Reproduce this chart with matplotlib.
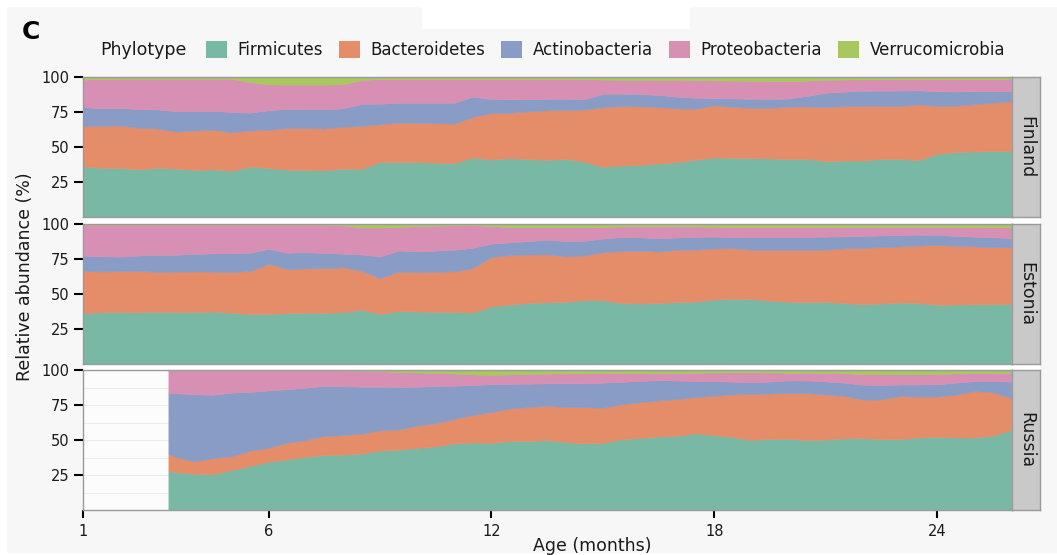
import numpy as np
import matplotlib
matplotlib.use("Agg")
import matplotlib.pyplot as plt
from matplotlib.patches import Patch, Rectangle

plt.rcParams['font.family'] = ['DejaVu Sans']

# Phylotypes, stacked bottom to top
phylotypes = ['Firmicutes', 'Bacteroidetes', 'Actinobacteria', 'Proteobacteria', 'Verrucomicrobia']
colors = ['#79b8a4', '#e58c68', '#889cc6', '#d78fb3', '#a8c75e']

# sampling ages (months)
months = np.arange(1.0, 26.5, 0.5)
months_russia = np.concatenate([[3.3], np.arange(3.5, 26.5, 0.5)])

# Finland, relative abundance (%)
fin_firmicutes = [36.3, 35.1, 35.0, 34.0, 35.1, 34.6, 33.6, 34.0, 32.9,
                  36.0, 35.0, 33.8, 33.5, 33.3, 34.5, 34.4, 39.2, 39.2,
                  39.2, 38.8, 38.4, 42.5, 41.0, 42.0, 41.3, 40.8, 41.5,
                  39.5, 35.8, 36.8, 37.2, 38.2, 39.2, 41.0, 42.5, 42.2,
                  42.0, 41.8, 41.3, 41.5, 39.9, 40.3, 40.3, 41.5, 41.5,
                  40.6, 45.0, 46.4, 46.8, 47.1, 47.4]
fin_bacteroidetes = [28.8, 30.0, 30.4, 29.7, 28.1, 26.4, 28.2, 28.3, 27.6,
                     25.8, 27.3, 29.8, 30.0, 29.9, 30.0, 30.6, 27.1, 28.2,
                     28.2, 28.2, 28.3, 29.0, 33.2, 32.5, 34.1, 35.4, 34.9,
                     37.3, 42.6, 42.4, 41.8, 40.4, 38.4, 36.4, 37.3, 36.4,
                     36.0, 36.2, 37.5, 37.5, 38.6, 38.9, 39.2, 37.9, 37.8,
                     39.9, 34.2, 33.1, 33.7, 34.5, 35.4]
fin_actinobacteria = [13.4, 12.6, 12.5, 13.3, 13.6, 14.6, 13.8, 13.5, 14.5,
                      12.7, 14.0, 13.6, 13.5, 13.8, 13.1, 15.8, 14.6, 14.2,
                      14.2, 14.6, 14.9, 14.5, 10.0, 9.5, 8.8, 8.1, 8.0,
                      7.3, 9.6, 8.8, 8.8, 8.6, 8.3, 7.8, 5.0, 6.1,
                      6.5, 6.4, 5.8, 7.5, 10.2, 10.3, 10.7, 10.9, 11.0,
                      10.0, 10.6, 10.2, 9.3, 8.3, 7.1]
fin_proteobacteria = [19.6, 20.8, 20.9, 21.8, 22.0, 23.2, 23.2, 23.0, 23.8,
                      21.8, 18.5, 17.4, 17.6, 17.6, 17.2, 17.0, 17.7, 17.0,
                      17.0, 17.0, 17.0, 12.6, 14.4, 14.6, 14.4, 14.3, 14.2,
                      14.4, 10.2, 10.0, 10.2, 10.8, 12.1, 12.6, 12.8, 12.7,
                      12.8, 12.8, 12.4, 10.9, 9.3, 8.7, 8.1, 8.1, 8.2,
                      8.1, 8.8, 8.9, 8.8, 8.7, 8.7]
fin_verrucomicrobia = [1.9, 1.5, 1.2, 1.2, 1.2, 1.2, 1.2, 1.2, 1.2,
                       3.7, 5.2, 5.4, 5.4, 5.4, 5.2, 2.2, 1.4, 1.4,
                       1.4, 1.4, 1.4, 1.4, 1.4, 1.4, 1.4, 1.4, 1.4,
                       1.5, 1.8, 2.0, 2.0, 2.0, 2.0, 2.2, 2.4, 2.6,
                       2.7, 2.8, 3.0, 2.6, 2.0, 1.8, 1.7, 1.6, 1.5,
                       1.4, 1.4, 1.4, 1.4, 1.4, 1.4]

# Estonia
est_firmicutes = [36.3, 37.0, 37.0, 36.9, 37.3, 37.0, 37.0, 37.5, 36.6,
                  35.7, 35.7, 36.3, 36.6, 36.5, 37.0, 38.8, 35.8, 37.8,
                  37.5, 37.3, 37.0, 36.8, 41.0, 42.5, 43.6, 44.0, 44.4,
                  45.6, 45.5, 43.5, 43.2, 43.5, 44.2, 44.6, 46.0, 46.6,
                  46.4, 45.3, 44.5, 44.2, 44.2, 43.5, 42.8, 43.2, 43.9,
                  43.6, 42.3, 42.5, 42.6, 42.7, 42.7]
est_bacteroidetes = [30.3, 29.1, 29.4, 29.7, 28.5, 29.0, 29.1, 28.5, 29.0,
                     30.8, 35.8, 31.6, 31.7, 32.0, 32.1, 27.7, 25.5, 28.2,
                     28.0, 28.5, 29.2, 31.7, 35.5, 35.3, 34.6, 34.3, 32.4,
                     31.9, 34.3, 37.3, 37.7, 36.8, 37.4, 37.1, 36.5, 36.2,
                     35.2, 36.3, 37.1, 37.4, 37.4, 39.1, 40.2, 40.3, 40.1,
                     41.0, 42.8, 42.0, 41.4, 40.9, 40.6]
est_actinobacteria = [10.7, 10.8, 10.3, 10.9, 12.2, 12.0, 12.5, 13.0, 13.6,
                      12.9, 10.8, 11.6, 11.5, 10.8, 9.7, 11.7, 15.5, 15.0,
                      14.9, 15.2, 15.4, 14.5, 9.5, 9.1, 9.6, 10.5, 11.0,
                      10.5, 9.8, 9.8, 9.6, 9.5, 8.8, 9.1, 8.5, 7.9,
                      8.9, 8.9, 9.0, 9.2, 9.4, 8.6, 8.5, 8.3, 8.1,
                      7.8, 7.2, 7.0, 7.0, 6.9, 6.7]
est_proteobacteria = [22.2, 22.6, 22.8, 22.0, 21.5, 21.5, 20.9, 20.5, 20.3,
                      20.1, 17.2, 20.0, 19.7, 20.2, 20.2, 19.3, 20.7, 16.8,
                      18.1, 17.8, 17.4, 16.2, 12.5, 10.8, 9.9, 8.9, 9.9,
                      9.7, 8.2, 7.7, 7.8, 8.5, 7.9, 7.5, 7.0, 7.2,
                      7.4, 7.4, 7.3, 7.1, 6.9, 6.7, 6.4, 6.1, 5.8,
                      5.5, 5.6, 6.3, 6.8, 7.2, 7.6]
est_verrucomicrobia = [0.5, 0.5, 0.5, 0.5, 0.5, 0.5, 0.5, 0.5, 0.5,
                       0.5, 0.5, 0.5, 0.5, 0.5, 1.0, 2.5, 2.5, 2.2,
                       1.5, 1.2, 1.0, 0.8, 1.5, 2.3, 2.3, 2.3, 2.3,
                       2.3, 2.2, 1.7, 1.7, 1.7, 1.7, 1.7, 2.0, 2.1,
                       2.1, 2.1, 2.1, 2.1, 2.1, 2.1, 2.1, 2.1, 2.1,
                       2.1, 2.1, 2.2, 2.2, 2.3, 2.4]

# Russia (sampling starts later)
rus_firmicutes = [27.9, 27.0, 25.9, 25.5, 28.5, 31.4, 34.6, 36.2, 38.0, 39.3,
                  39.6, 40.3, 42.5, 43.0, 44.4, 45.5, 47.5, 48.3, 48.0,
                  49.2, 49.3, 50.0, 48.5, 47.6, 48.0, 50.5, 51.5, 52.5,
                  52.9, 54.8, 53.5, 52.0, 50.0, 50.8, 51.0, 49.8, 50.3,
                  51.2, 51.4, 50.5, 50.7, 51.8, 52.2, 51.8, 51.8, 53.0, 57.4]
rus_bacteroidetes = [12.1, 10.8, 8.9, 11.5, 9.9, 11.0, 9.9, 11.9, 12.0, 13.6,
                     13.9, 14.2, 14.5, 14.5, 15.9, 16.5, 17.5, 19.6, 22.0,
                     23.3, 24.3, 24.5, 25.0, 25.9, 25.0, 25.0, 25.5, 25.7,
                     26.4, 26.0, 28.0, 30.6, 32.9, 32.4, 32.6, 33.7, 32.2,
                     30.3, 27.4, 28.5, 30.7, 29.2, 28.8, 30.6, 33.2, 31.1, 22.8]
rus_actinobacteria = [43.8, 45.7, 47.8, 45.3, 45.4, 41.9, 41.0, 38.2, 37.3, 35.7,
                      34.8, 33.6, 31.1, 30.3, 27.7, 26.5, 23.8, 21.4, 19.8,
                      17.5, 16.6, 16.0, 17.0, 17.0, 18.0, 16.0, 15.2, 14.6,
                      13.2, 11.3, 10.5, 9.1, 8.2, 8.6, 9.0, 9.0, 9.3,
                      9.5, 10.7, 10.4, 8.2, 8.7, 8.8, 8.6, 7.0, 7.9, 11.5]
rus_proteobacteria = [15.9, 16.2, 17.1, 17.4, 15.9, 15.4, 14.2, 13.4, 12.4, 11.1,
                      11.3, 11.4, 11.1, 10.7, 10.2, 9.5, 8.7, 7.5, 6.7,
                      6.8, 7.0, 6.9, 7.1, 7.1, 6.8, 6.3, 5.7, 5.2,
                      5.5, 6.0, 6.2, 6.6, 7.2, 6.4, 5.5, 5.6, 6.2,
                      6.6, 7.7, 7.6, 7.3, 7.3, 7.4, 6.5, 5.8, 6.0, 6.4]
rus_verrucomicrobia = [0.3, 0.3, 0.3, 0.3, 0.3, 0.3, 0.3, 0.3, 0.3, 0.3,
                       0.4, 0.5, 0.8, 1.5, 1.8, 2.0, 2.5, 3.2, 3.5,
                       3.2, 2.8, 2.6, 2.4, 2.4, 2.2, 2.2, 2.1, 2.0,
                       2.0, 1.9, 1.8, 1.7, 1.7, 1.8, 1.9, 1.9, 2.0,
                       2.4, 2.8, 3.0, 3.1, 3.0, 2.8, 2.5, 2.2, 2.0, 1.9]

panels = [
    ('Finland', months, [fin_firmicutes, fin_bacteroidetes, fin_actinobacteria,
                         fin_proteobacteria, fin_verrucomicrobia]),
    ('Estonia', months, [est_firmicutes, est_bacteroidetes, est_actinobacteria,
                         est_proteobacteria, est_verrucomicrobia]),
    ('Russia', months_russia, [rus_firmicutes, rus_bacteroidetes, rus_actinobacteria,
                               rus_proteobacteria, rus_verrucomicrobia]),
]

W, H = 1057, 555
fig = plt.figure(figsize=(W / 100, H / 100), dpi=100)
fig.patch.set_facecolor('white')

# light grey backdrop with a white notch on top
fig.add_artist(Rectangle((7 / W, 2 / H), 1 - 7 / W, 1 - 9 / H, transform=fig.transFigure,
                         facecolor='#f7f7f7', edgecolor='none', zorder=-10))
fig.add_artist(Rectangle((422 / W, 1 - 29 / H), 268 / W, 29 / H, transform=fig.transFigure,
                         facecolor='white', edgecolor='none', zorder=-9))
fig.add_artist(Rectangle((83 / W, 1 - 510 / H), 957 / W, 433 / H, transform=fig.transFigure,
                         facecolor='white', edgecolor='none', zorder=-9))

left, right = 83, 1012
tops = [77, 224, 370]
ph = 140
spine_col = '#9a9a9a'

for i, (country, x, series) in enumerate(panels):
    top = tops[i]
    ax = fig.add_axes([left / W, 1 - (top + ph) / H, (right - left) / W, ph / H])
    ax.set_facecolor('#fcfcfc')
    polys = ax.stackplot(x, *series, colors=colors, linewidth=0.4)
    for p, c in zip(polys, colors):
        p.set_edgecolor(c)
    ax.set_xlim(1, 26.02)
    ax.set_ylim(0, 100)
    ax.set_yticks([25, 50, 75, 100])
    ax.set_yticks([12.5, 37.5, 62.5, 87.5], minor=True)
    ax.grid(True, which='both', axis='y', color='#ececec', linewidth=0.8)
    ax.set_axisbelow(True)
    for s in ax.spines.values():
        s.set_color(spine_col)
        s.set_linewidth(1.0)
    ax.tick_params(axis='y', which='major', length=6.5, width=1.5, color='black',
                   labelsize=10.5, labelcolor='#1a1a1a', pad=3.5)
    ax.tick_params(axis='y', which='minor', length=0)
    ax.set_xticks([1, 6, 12, 18, 24])
    if i < 2:
        ax.tick_params(axis='x', length=0, labelbottom=False)
    else:
        ax.tick_params(axis='x', length=6, width=1.5, color='black',
                       labelsize=10.5, labelcolor='#1a1a1a', pad=4)

    # facet strip on the right
    sax = fig.add_axes([right / W, 1 - (top + ph) / H, 28 / W, ph / H])
    sax.set_facecolor('#c9c9c9')
    sax.set_xticks([])
    sax.set_yticks([])
    for s in sax.spines.values():
        s.set_color(spine_col)
        s.set_linewidth(1.0)
    sax.text(0.5, 0.5, country, rotation=270, ha='center', va='center',
             fontsize=12.5, color='#1a1a1a', transform=sax.transAxes)

fig.text(25 / W, 1 - 277 / H, 'Relative abundance (%)', rotation=90,
         ha='center', va='center', fontsize=12.5, color='#1a1a1a')
fig.text(592 / W, 1 - 546 / H, 'Age (months)', ha='center', va='center',
         fontsize=12.5, color='#1a1a1a')
fig.text(22 / W, 1 - 32 / H, 'C', ha='left', va='center', fontsize=18,
         fontweight='bold', color='black')

# legend row
fig.text(100 / W, 1 - 50 / H, 'Phylotype', ha='left', va='center',
         fontsize=12.5, color='#1a1a1a')
handles = [Patch(facecolor=c, edgecolor='none') for c in colors]
fig.legend(handles, phylotypes, loc='center left', bbox_to_anchor=(206 / W, 1 - 50 / H),
           ncol=5, frameon=False, fontsize=12, handlelength=1.25, handleheight=1.25,
           handletextpad=0.65, columnspacing=0.95, borderpad=0, borderaxespad=0,
           labelcolor='#1a1a1a')

fig.savefig('out.png', dpi=100)
